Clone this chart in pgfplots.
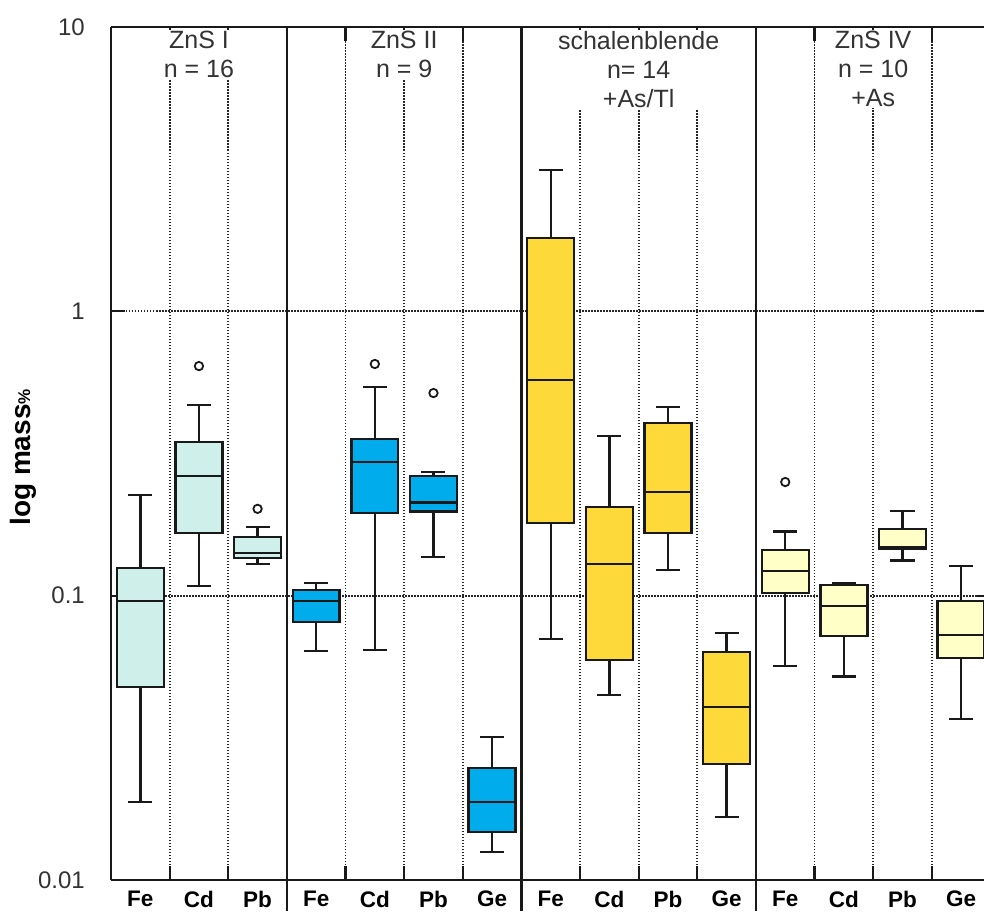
\documentclass[border=0pt]{standalone}
\usepackage{fontspec}
\setmainfont{Liberation Sans}
\usepackage{pgfplots}
\pgfplotsset{compat=1.18}
\usepgfplotslibrary{statistics}
\definecolor{cA}{HTML}{CFEFEA}
\definecolor{cB}{HTML}{00ACEC}
\definecolor{cC}{HTML}{FDD93A}
\definecolor{cD}{HTML}{FFFFC8}
\definecolor{txt}{HTML}{333333}
\pgfplotsset{
  mybox/.style n args={7}{
    boxplot/draw direction=y,
    boxplot prepared={draw position=#1, lower whisker=#2, lower quartile=#3,
      median=#4, upper quartile=#5, upper whisker=#6},
    boxplot/box extend=0.8, boxplot/whisker extend=0.41,
    draw=black!90, solid, line width=2.4pt,
    boxplot/every box/.style={draw=black!90, fill=#7},
    mark=o, mark size=4.2pt, mark options={solid, draw=black!90, fill=none, line width=1.8pt},
  },
}
\begin{document}
\begin{tikzpicture}
\begin{axis}[
  name=ax,
  scale only axis, width=873pt, height=853pt,
  xmin=0, xmax=14.89, ymode=log, ymin=0.01, ymax=10,
  axis x line*=box, axis y line*=left,
  axis line style={-, line width=2.2pt, black!90},
  clip=false,
  tick align=inside,
  major tick length=14pt,
  every tick/.style={black!90, line width=2.2pt},
  xtick={1,2,4,5,6,8,9,10,12,13,14}, xticklabels={},
  extra x ticks={0.5,1.5,2.5,3.5,4.5,5.5,6.5,7.5,8.5,9.5,10.5,11.5,12.5,13.5,14.5},
  extra x tick labels={Fe,Cd,Pb,Fe,Cd,Pb,Ge,Fe,Cd,Pb,Ge,Fe,Cd,Pb,Ge},
  extra x tick style={major tick length=0pt, grid=none},
  xticklabel style={font=\fontsize{22.5}{22.5}\selectfont\bfseries, text=black, anchor=north, inner sep=0pt, yshift=-11pt},
  ytick={0.01,0.1,1,10}, yticklabels={0.01,0.1,1,10},
  yminorticks=false, xminorticks=false,
  yticklabel style={font=\fontsize{24}{24}\selectfont, text=txt, anchor=east, inner sep=0pt, xshift=-26pt},
  /pgf/number format/assume math mode=true,
  xmajorgrids, ymajorgrids,
  grid style={black!85, line width=1.8pt, dash pattern=on 1.5pt off 1.5pt},
]
% ZnS I
\addplot[mybox={0.5}{0.0188}{0.0477}{0.0958}{0.125}{0.226}{cA}] coordinates {};
\addplot[mybox={1.5}{0.108}{0.166}{0.263}{0.347}{0.468}{cA}] table[row sep=\\, y index=0] {0.642\\};
\addplot[mybox={2.5}{0.129}{0.136}{0.141}{0.161}{0.174}{cA}] table[row sep=\\, y index=0] {0.202\\};
% ZnS II
\addplot[mybox={3.5}{0.0638}{0.0807}{0.0958}{0.1047}{0.111}{cB}] coordinates {};
\addplot[mybox={4.5}{0.0644}{0.195}{0.295}{0.356}{0.542}{cB}] table[row sep=\\, y index=0] {0.653\\};
\addplot[mybox={5.5}{0.137}{0.198}{0.213}{0.263}{0.272}{cB}] table[row sep=\\, y index=0] {0.516\\};
\addplot[mybox={6.5}{0.01254}{0.01475}{0.0188}{0.0248}{0.0318}{cB}] coordinates {};
% schalenblende
\addplot[mybox={7.5}{0.0704}{0.180}{0.574}{1.81}{3.14}{cC}] coordinates {};
\addplot[mybox={8.5}{0.0448}{0.0594}{0.129}{0.205}{0.364}{cC}] coordinates {};
\addplot[mybox={9.5}{0.123}{0.166}{0.231}{0.405}{0.461}{cC}] coordinates {};
\addplot[mybox={10.5}{0.01665}{0.0256}{0.0406}{0.0634}{0.0739}{cC}] coordinates {};
% ZnS IV
\addplot[mybox={11.5}{0.0566}{0.102}{0.122}{0.145}{0.168}{cD}] table[row sep=\\, y index=0] {0.251\\};
\addplot[mybox={12.5}{0.0519}{0.0720}{0.0918}{0.109}{0.111}{cD}] coordinates {};
\addplot[mybox={13.5}{0.133}{0.146}{0.148}{0.172}{0.199}{cD}] coordinates {};
\addplot[mybox={14.5}{0.0368}{0.0604}{0.0727}{0.0958}{0.127}{cD}] coordinates {};
% group separators
\draw[line width=2.2pt, black!90] (axis cs:3,10) -- (axis cs:3,0.01) -- ++(0pt,-31pt);
\draw[line width=2.2pt, black!90] (axis cs:7,10) -- (axis cs:7,0.01) -- ++(0pt,-31pt);
\draw[line width=2.2pt, black!90] (axis cs:11,10) -- (axis cs:11,0.01) -- ++(0pt,-31pt);
\draw[line width=2.2pt, black!90] (axis cs:14.89,1) -- ++(-7pt,0pt);
\draw[line width=2.2pt, black!90] (axis cs:14.89,0.1) -- ++(-7pt,0pt);
% titles
\tikzset{ttl/.style={fill=white, inner sep=1pt, align=center, anchor=north, text=txt, font=\fontsize{25}{29}\selectfont, yshift=-3pt}}
\node[ttl] at (axis cs:1.5,10) {ZnS I\\n = 16};
\node[ttl] at (axis cs:5,10) {ZnS II\\n = 9};
\node[ttl] at (axis cs:9,10) {schalenblende\\n= 14\\+As/Tl};
\node[ttl] at (axis cs:13,10) {ZnS IV\\n = 10\\+As};
\node[xshift=-88pt, yshift=-4pt, rotate=90, font=\fontsize{28}{28}\selectfont\bfseries, text=black] at (rel axis cs:0,0.5) {log mass{\fontsize{17}{17}\selectfont\%}};
\end{axis}
\pgfresetboundingbox
\path (ax.south west) ++(-111pt,-31pt) rectangle ([yshift=27pt]ax.north east);
\end{tikzpicture}
\end{document}
